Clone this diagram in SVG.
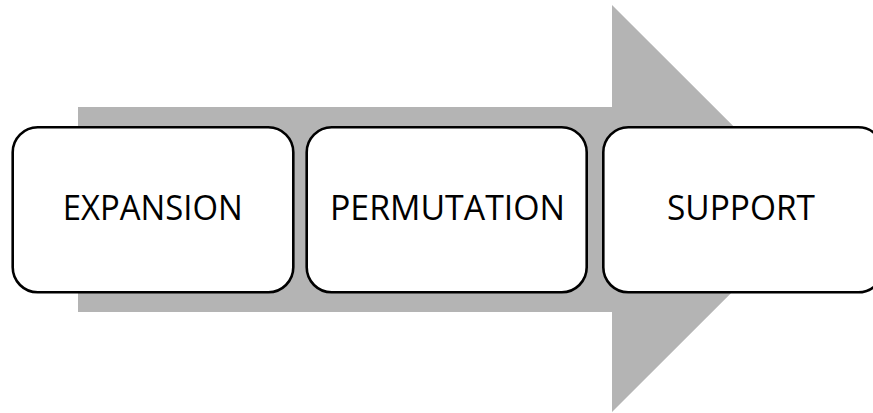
<svg xmlns="http://www.w3.org/2000/svg" width="873" height="413" viewBox="0 0 873 413">
  <style>
    .arrow { fill: #b4b4b4; stroke: none; }
    .box { fill: #ffffff; stroke: #000000; stroke-width: 2.6; }
    .label { font-family: "Open Sans", "Liberation Sans", sans-serif; font-size: 34px; fill: #000000; text-anchor: middle; }
  </style>
  <g id="connectors">
    <polygon class="arrow" points="78,107 612,107 612,5 816,208.5 612,412 612,312 78,312"/>
  </g>
  <g id="node-expansion">
    <rect class="box" x="12.7" y="127.3" width="280.6" height="165" rx="25" ry="25"/>
    <text class="label" x="152.7" y="220" textLength="180" lengthAdjust="spacingAndGlyphs">EXPANSION</text>
  </g>
  <g id="node-permutation">
    <rect class="box" x="306.7" y="127.3" width="280" height="165" rx="25" ry="25"/>
    <text class="label" x="447.5" y="220" textLength="235" lengthAdjust="spacingAndGlyphs">PERMUTATION</text>
  </g>
  <g id="node-support">
    <rect class="box" x="603.3" y="127.3" width="280" height="165" rx="25" ry="25"/>
    <text class="label" x="741" y="220" textLength="148" lengthAdjust="spacingAndGlyphs">SUPPORT</text>
  </g>
</svg>
